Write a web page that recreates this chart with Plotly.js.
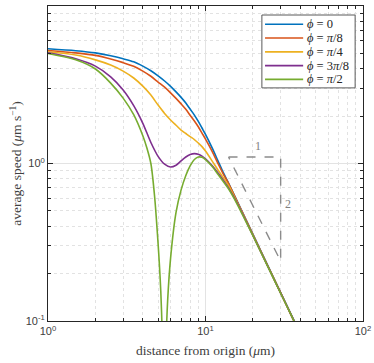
<!DOCTYPE html>
<html>
<head>
<meta charset="utf-8">
<script src="https://cdn.plot.ly/plotly-3.0.1.min.js"></script>
<style>
  body { margin: 0; background: #fff; }
  #plot { width: 374px; height: 363px; }
</style>
</head>
<body>
<div id="plot"></div>
<script>
// distance from origin (um), shared by the first four curves
let distance = [1, 1.5, 2, 2.5, 3, 3.5, 4, 4.5, 5, 5.5, 6, 6.5, 7, 7.5, 8, 8.5, 9, 9.5, 10,
  11, 12, 13, 14, 16, 18, 20, 25, 30, 35, 40];

let speedPhi0 = [5.35, 5.2, 5.04, 4.83, 4.62, 4.42, 4.15, 3.88, 3.6, 3.34, 3.09, 2.85, 2.63, 2.42, 2.21, 2.03, 1.85, 1.68, 1.53,
  1.26, 1.04, 0.871, 0.752, 0.568, 0.444, 0.356, 0.222, 0.151, 0.11, 0.083];
let speedPhi8 = [5.22, 5.04, 4.86, 4.61, 4.37, 4.14, 3.86, 3.58, 3.29, 3.05, 2.81, 2.59, 2.39, 2.21, 2.02, 1.86, 1.71, 1.56, 1.43,
  1.2, 1.0, 0.854, 0.748, 0.565, 0.442, 0.354, 0.221, 0.151, 0.109, 0.0825];
let speedPhi4 = [5.12, 4.88, 4.55, 4.22, 3.86, 3.49, 3.1, 2.72, 2.35, 2.08, 1.89, 1.75, 1.63, 1.55, 1.48, 1.42, 1.35, 1.28, 1.2,
  1.04, 0.91, 0.81, 0.725, 0.558, 0.438, 0.352, 0.221, 0.151, 0.109, 0.0825];
let speedPhi38 = [5.04, 4.62, 4.15, 3.55, 2.93, 2.33, 1.8, 1.36, 1.11, 0.99, 0.95, 0.975, 1.04, 1.1, 1.14, 1.155, 1.145, 1.115, 1.07,
  0.97, 0.87, 0.78, 0.70, 0.553, 0.435, 0.35, 0.22, 0.151, 0.109, 0.0825];

// phi = pi/2 dips to zero, so it gets a denser grid
let distanceHalf = [1, 1.5, 2, 2.5, 3, 3.5, 4, 4.25, 4.5, 4.75, 5, 5.1, 5.2, 5.3, 5.4, 5.46, 5.5, 5.6, 5.75, 6,
  6.5, 7, 7.5, 8, 8.5, 9, 9.5, 10, 11, 12, 13, 14, 16, 18, 20, 25, 30, 35, 40];
let speedPhi2 = [4.99, 4.55, 3.98, 3.24, 2.6, 2.04, 1.5, 1.25, 1.0, 0.62, 0.31, 0.225, 0.155, 0.09, 0.033, 0.004, 0.02, 0.065, 0.135, 0.25,
  0.49, 0.68, 0.84, 0.97, 1.06, 1.1, 1.095, 1.06, 0.96, 0.855, 0.765, 0.69, 0.545, 0.43, 0.348, 0.219, 0.15, 0.109, 0.082];

let names = ['<i>ϕ</i> = 0', '<i>ϕ</i> = <i>π</i>/8', '<i>ϕ</i> = <i>π</i>/4', '<i>ϕ</i> = 3<i>π</i>/8', '<i>ϕ</i> = <i>π</i>/2'];
let colors = ['#0072BD', '#D95319', '#EDB120', '#7E2F8E', '#77AC30'];

// slope triangle
let slopeX = [14, 30, 30, 14];
let slopeY = [1.1, 1.1, 0.24, 1.1];

let xs = [distance, distance, distance, distance, distanceHalf];
let ys = [speedPhi0, speedPhi8, speedPhi4, speedPhi38, speedPhi2];

let serif = "'Liberation Serif', 'Times New Roman', serif";

let data = [];
let shapes = [];
let annotations = [];

// legend box drawn by hand so the rows are as tight as the original
shapes.push({type: 'rect', xref: 'paper', yref: 'paper', x0: 0.679, x1: 0.975, y0: 0.74, y1: 0.9714,
  line: {color: '#595959', width: 1}, fillcolor: '#ffffff', layer: 'above'});

for (let i = 0; i < 5; i++) {
  data.push({
    x: xs[i],
    y: ys[i],
    name: names[i],
    type: 'scatter',
    mode: 'lines',
    showlegend: false,
    line: {color: colors[i], width: 1.6, shape: 'spline', smoothing: 0.8}
  });
  let rowY = 0.9419 - i * 0.0437;
  shapes.push({type: 'line', xref: 'paper', yref: 'paper', x0: 0.689, x1: 0.81, y0: rowY, y1: rowY,
    line: {color: colors[i], width: 1.6}, layer: 'above'});
  annotations.push({xref: 'paper', yref: 'paper', x: 0.817, y: rowY, xanchor: 'left', yanchor: 'middle',
    text: names[i], showarrow: false, font: {family: serif, size: 12.5, color: '#262626'}});
}

data.push({
  x: slopeX,
  y: slopeY,
  type: 'scatter',
  mode: 'lines',
  showlegend: false,
  hoverinfo: 'skip',
  line: {color: '#8c8c8c', width: 1.4, dash: 'dash'}
});

annotations.push({x: Math.log10(21.5), y: Math.log10(1.29), text: '1', showarrow: false,
  font: {family: serif, size: 12, color: '#7f7f7f'}});
annotations.push({x: Math.log10(33.6), y: Math.log10(0.55), text: '2', showarrow: false,
  font: {family: serif, size: 12, color: '#7f7f7f'}});

let minorVals = [];
for (let d of [0.1, 1, 10]) {
  for (let k = 2; k <= 9; k++) minorVals.push(k * d);
}

let axisCommon = {
  type: 'log',
  tickmode: 'array',
  ticks: 'inside',
  ticklen: 5,
  tickcolor: '#262626',
  showline: true,
  linecolor: '#262626',
  linewidth: 1,
  mirror: 'ticks',
  showgrid: true,
  gridcolor: '#e3e3e3',
  zeroline: false,
  tickfont: {family: "'Liberation Sans', Arial, sans-serif", size: 11, color: '#404040'},
  minor: {
    tickvals: minorVals,
    ticks: 'inside',
    ticklen: 3,
    tickcolor: '#262626',
    showgrid: true,
    gridcolor: '#e2e2e2',
    griddash: 'dot'
  }
};

let titleFont = {family: serif, size: 13.5, color: '#404040'};

let layout = {
  width: 374,
  height: 363,
  margin: {l: 48, r: 11, t: 6, b: 42},
  paper_bgcolor: '#fff',
  plot_bgcolor: '#fff',
  showlegend: false,
  xaxis: Object.assign({}, axisCommon, {
    range: [0, 2],
    tickvals: [1, 10, 100],
    ticktext: ['10<sup>0</sup>', '10<sup>1</sup>', '10<sup>2</sup>'],
    title: {text: 'distance from origin (<i>μ</i>m)', font: titleFont, standoff: 9}
  }),
  yaxis: Object.assign({}, axisCommon, {
    range: [-1, 1],
    tickvals: [0.1, 1, 10],
    ticktext: ['10<sup>-1</sup>', '10<sup>0</sup>', '10<sup>1</sup>'],
    title: {text: 'average speed (<i>μ</i>m s<sup>−1</sup>)', font: titleFont, standoff: 0}
  }),
  shapes: shapes,
  annotations: annotations
};

Plotly.newPlot('plot', data, layout, {displayModeBar: false, staticPlot: true});
</script>
</body>
</html>
